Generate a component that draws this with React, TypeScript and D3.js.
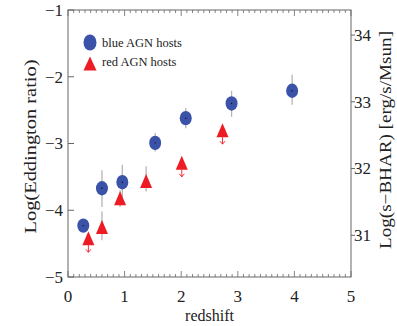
import React from "react";
import * as d3 from "d3";

const W = 397;
const H = 326;

// blue AGN hosts: redshift, log Eddington ratio, error low, error high
const blueZ = [0.27, 0.6, 0.96, 1.54, 2.08, 2.89, 3.96];
const blueY = [-4.23, -3.67, -3.58, -2.99, -2.62, -2.4, -2.21];
const blueLo = [-4.3, -3.95, -3.85, -3.12, -2.77, -2.6, -2.42];
const blueHi = [-4.16, -3.4, -3.32, -2.84, -2.47, -2.21, -1.97];

// red AGN hosts
const redZ = [0.36, 0.6, 0.92, 1.38, 2.01, 2.73];
const redY = [-4.42, -4.25, -3.82, -3.56, -3.29, -2.8];
const redLo = [null, -4.45, -3.95, -3.72, null, null];
const redHi = [null, -4.02, -3.7, -3.34, null, null];
const redUpperLimit = [true, false, false, false, true, true];

const xTicks = [0, 1, 2, 3, 4, 5];
const yTicks = [-5, -4, -3, -2, -1];
const y2Ticks = [31, 32, 33, 34];

const legendLabels = ["blue AGN hosts", "red AGN hosts"];

const BLUE = "#3a52a7";
const RED = "#ec1b24";
const AXIS = "#666";
const ERR = "#b5b5b5";
const FONT = '"Liberation Serif", "DejaVu Serif", serif';

const fmt = (v: number) => (v < 0 ? "\u2212" + Math.abs(v) : String(v));

export default function App() {
  const left = 68, right = 351, top = 10, bottom = 277;
  const x = d3.scaleLinear().domain([0, 5]).range([left, right]);
  const y = d3.scaleLinear().domain([-5, -1]).range([bottom, top]);
  const y2 = d3.scaleLinear().domain([30.375, 34.375]).range([bottom, top]);
  const minor = d3.range(0, 5.0001, 0.1);
  const ts = { fontFamily: FONT };

  const tri = (cx: number, cy: number, w: number, h: number) =>
    `M${cx},${cy - h / 2}L${cx + w / 2},${cy + h / 2}L${cx - w / 2},${cy + h / 2}Z`;

  return (
    <svg width={W} height={H} style={{ position: "absolute", left: 0, top: 0, fontFamily: FONT }}>
      <rect x={0} y={0} width={W} height={H} fill="#fff" />
      <rect x={left} y={top} width={right - left} height={bottom - top} fill="none" stroke={AXIS} strokeWidth={1} />
      {minor.map((v, i) => {
        const major = Math.abs(v - Math.round(v)) < 1e-6;
        const len = major ? 6 : 3;
        const xx = x(v);
        return (
          <g key={"m" + i}>
            <line x1={xx} x2={xx} y1={bottom} y2={bottom - len} stroke={AXIS} strokeWidth={0.8} />
            <line x1={xx} x2={xx} y1={top} y2={top + len} stroke={AXIS} strokeWidth={0.8} />
          </g>
        );
      })}
      {xTicks.map((t) => (
        <text key={"xt" + t} x={x(t)} y={302} fontSize={17} textAnchor="middle" fill="#222" style={ts}>
          {fmt(t)}
        </text>
      ))}
      {yTicks.map((t) => (
        <g key={"yt" + t}>
          <line x1={left} x2={left + 6} y1={y(t)} y2={y(t)} stroke={AXIS} strokeWidth={1} />
          <text x={63} y={y(t)} dy="0.35em" fontSize={17} textAnchor="end" fill="#222" style={ts}>
            {fmt(t)}
          </text>
        </g>
      ))}
      {y2Ticks.map((t) => (
        <g key={"y2t" + t}>
          <line x1={right} x2={right + 4} y1={y2(t)} y2={y2(t)} stroke={AXIS} strokeWidth={1} />
          <text x={354} y={y2(t)} dy="0.35em" fontSize={17} textAnchor="start" fill="#222" style={ts}>
            {t}
          </text>
        </g>
      ))}
      <text x={209.5} y={321} fontSize={16} textAnchor="middle" fill="#222" style={ts}>
        redshift
      </text>
      <text
        transform={`translate(36,146.5) rotate(-90)`}
        fontSize={16}
        textAnchor="middle"
        fill="#222"
        style={ts}
        textLength={174}
        lengthAdjust="spacingAndGlyphs"
      >
        Log(Eddington ratio)
      </text>
      <text
        transform={`translate(391,140) rotate(-90)`}
        fontSize={16}
        textAnchor="middle"
        fill="#222"
        style={ts}
        textLength={218}
        lengthAdjust="spacingAndGlyphs"
      >
        Log(s{"\u2212"}BHAR) [erg/s/Msun]
      </text>

      {blueZ.map((z, i) => (
        <line key={"be" + i} x1={x(z)} x2={x(z)} y1={y(blueLo[i])} y2={y(blueHi[i])} stroke={ERR} strokeWidth={1.3} />
      ))}
      {redZ.map((z, i) =>
        redLo[i] !== null ? (
          <line key={"re" + i} x1={x(z)} x2={x(z)} y1={y(redLo[i] as number)} y2={y(redHi[i] as number)} stroke={ERR} strokeWidth={1.3} />
        ) : null
      )}
      {blueZ.map((z, i) => (
        <g key={"bp" + i}>
          <ellipse cx={x(z)} cy={y(blueY[i])} rx={6} ry={7.2} fill={BLUE} />
          <circle cx={x(z)} cy={y(blueY[i])} r={0.7} fill="#111" />
        </g>
      ))}
      {redZ.map((z, i) => {
        const cx = x(z);
        const cy = y(redY[i]);
        return (
          <g key={"rp" + i}>
            {redUpperLimit[i] && (
              <g stroke={RED} strokeWidth={0.9} fill="none">
                <line x1={cx} x2={cx} y1={cy + 7} y2={cy + 14} />
                <path d={`M${cx - 2.5},${cy + 11}L${cx},${cy + 14}L${cx + 2.5},${cy + 11}`} />
              </g>
            )}
            <path d={tri(cx, cy, 12, 14)} fill={RED} />
          </g>
        );
      })}

      <ellipse cx={90} cy={42.5} rx={6.5} ry={8} fill={BLUE} />
      <path d={tri(90, 63.5, 13, 14)} fill={RED} />
      <text x={102} y={46.5} fontSize={12.5} fill="#222" style={ts}>{legendLabels[0]}</text>
      <text x={102} y={66} fontSize={12.5} fill="#222" style={ts}>{legendLabels[1]}</text>
    </svg>
  );
}
